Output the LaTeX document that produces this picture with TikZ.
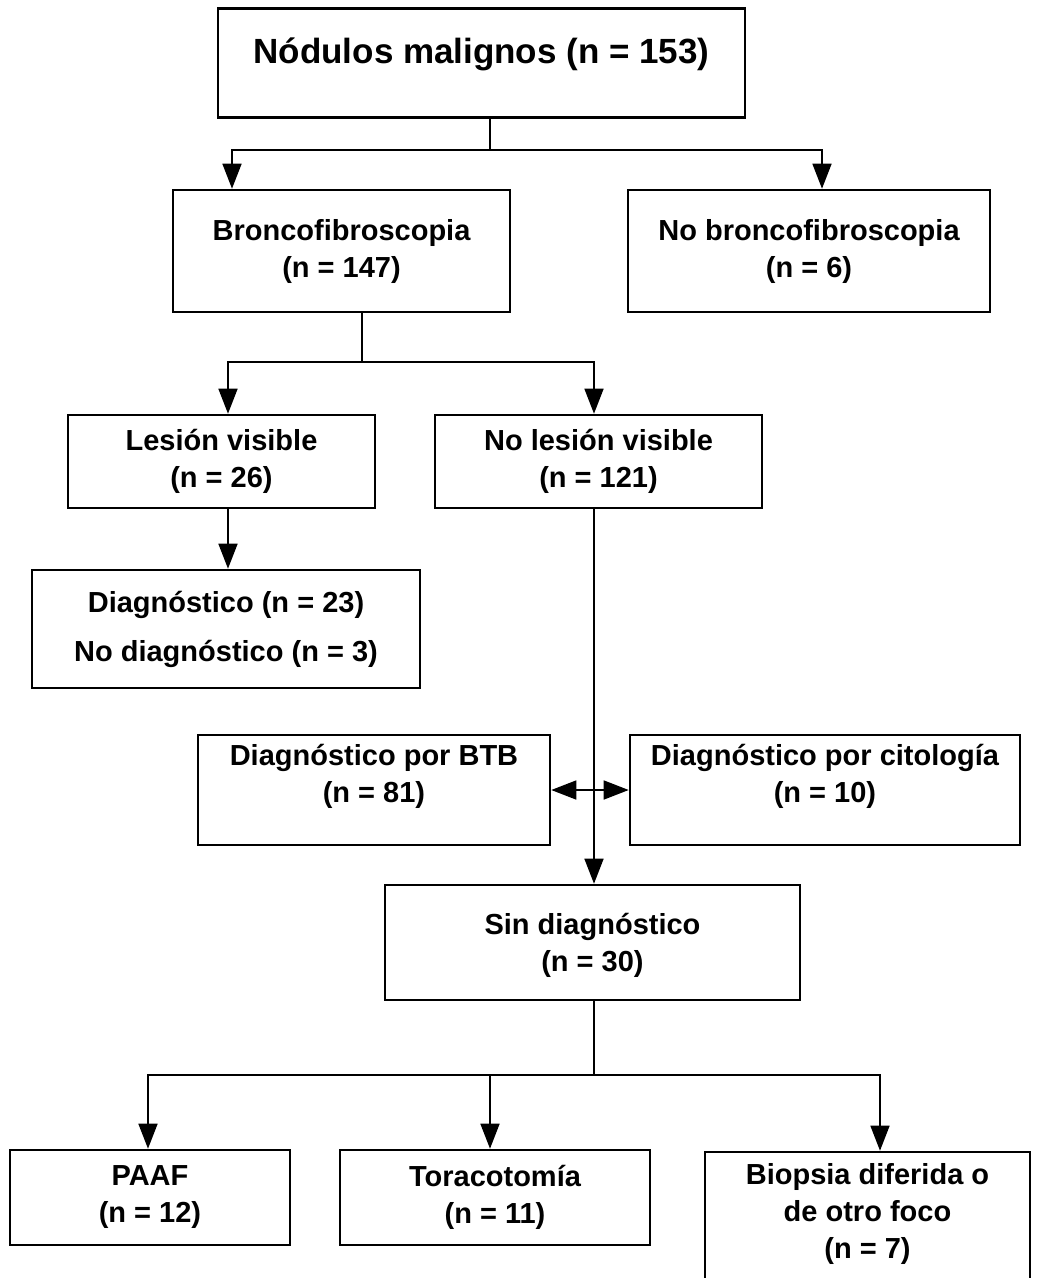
\documentclass[tikz,border=0pt]{standalone}
\usepackage{fontspec}
\setmainfont{Liberation Sans}
\usetikzlibrary{arrows.meta}
\begin{document}
\begin{tikzpicture}[x=1pt,y=-1pt,
  box/.style={draw,line width=2.6pt,align=center,inner sep=0pt,font=\bfseries\fontsize{29}{37}\selectfont},
  conn/.style={line width=1.6pt},
  arr/.style={line width=1.6pt,-{Triangle[width=19pt,length=25pt]}},
  darr/.style={line width=1.6pt,{Triangle[width=19pt,length=25pt]}-{Triangle[width=19pt,length=25pt]}}]
\clip (0,0) rectangle (1039,1278);
\fill[white] (0,0) rectangle (1039,1278);
% boxes
\node[box,minimum width=527,minimum height=109,text depth=24pt,font=\bfseries\fontsize{35}{42}\selectfont] (top) at (481.5,63) {Nódulos malignos (n = 153)};
\node[box,minimum width=337,minimum height=122] (bronco) at (341.5,251) {Broncofibroscopia\\(n = 147)};
\node[box,minimum width=362,minimum height=122] (nobronco) at (809,251) {No broncofibroscopia\\(n = 6)};
\node[box,minimum width=307,minimum height=93] (lesion) at (221.5,461.5) {Lesión visible\\(n = 26)};
\node[box,minimum width=327,minimum height=93] (nolesion) at (598.5,461.5) {No lesión visible\\(n = 121)};
\node[box,minimum width=388,minimum height=118] (diag) at (226,629) {Diagnóstico (n = 23)\\[12pt]No diagnóstico (n = 3)};
\node[box,minimum width=352,minimum height=110,text depth=34pt] (btb) at (374,790) {Diagnóstico por BTB\\(n = 81)};
\node[box,minimum width=390,minimum height=110,text depth=34pt] (cito) at (825,790) {Diagnóstico por citología\\(n = 10)};
\node[box,minimum width=415,minimum height=115,text depth=0pt] (sin) at (592.5,942.5) {Sin diagnóstico\\(n = 30)};
\node[box,minimum width=280,minimum height=95] (paaf) at (150,1197.5) {PAAF\\(n = 12)};
\node[box,minimum width=310,minimum height=95] (tora) at (495,1197.5) {Toracotomía\\(n = 11)};
\node[box,minimum width=325,minimum height=138,text depth=20pt] (biop) at (867.5,1221) {Biopsia diferida o\\de otro foco\\(n = 7)};
% x positions of connectors
\coordinate (x1) at (490,0);
\coordinate (x2) at (232,0);
\coordinate (x3) at (822,0);
\coordinate (x4) at (362,0);
\coordinate (x5) at (228,0);
\coordinate (x6) at (594,0);
\coordinate (x7) at (148,0);
\coordinate (x8) at (490,0);
\coordinate (x9) at (880,0);
% junctions
\coordinate (j1) at (490,150);
\coordinate (j2) at (362,362);
\coordinate (j3) at (594,1075);
% connectors
\draw[conn] (x1 |- top.south) -- (j1);
\draw[arr] (j1) -| (x2 |- bronco.north);
\draw[arr] (j1) -| (x3 |- nobronco.north);
\draw[conn] (x4 |- bronco.south) -- (j2);
\draw[arr] (j2) -| (x5 |- lesion.north);
\draw[arr] (j2) -| (x6 |- nolesion.north);
\draw[arr] (x5 |- lesion.south) -- (x5 |- diag.north);
\draw[arr] (x6 |- nolesion.south) -- (x6 |- sin.north);
\draw[darr] (btb.east) -- (cito.west);
\draw[conn] (x6 |- sin.south) -- (j3);
\draw[arr] (j3) -| (x7 |- paaf.north);
\draw[arr] (j3) -| (x8 |- tora.north);
\draw[arr] (j3) -| (x9 |- biop.north);
\end{tikzpicture}
\end{document}
